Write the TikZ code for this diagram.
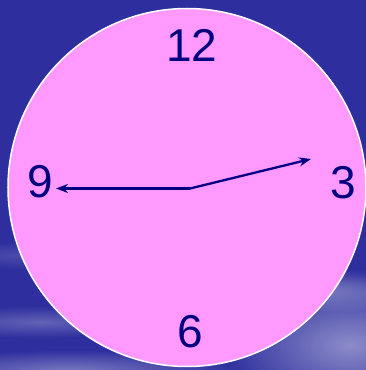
\documentclass[tikz,border=0pt]{standalone}
\usepackage{fontspec}
\setmainfont{Liberation Sans}
\usepackage{xcolor}
\usepackage{tikz}
\usetikzlibrary{arrows.meta, fadings}

\definecolor{skyblue}{RGB}{46,46,158}
\definecolor{facepink}{RGB}{255,153,255}
\definecolor{handblue}{RGB}{0,0,128}

\tikzfading[name=softcloud, inner color=transparent!0, outer color=transparent!100]

\tikzset{
  hour/.style={font=\fontsize{46}{46}\selectfont, text=handblue, inner sep=0pt},
  hand/.style={draw=handblue, line width=2.3pt, -{Stealth[length=12pt, width=9pt]}},
  cloud/.style={fill=white, path fading=softcloud}
}

\begin{document}
\begin{tikzpicture}[x=1pt, y=1pt]
% sky
\fill[skyblue] (0,0) rectangle (366,370);
\useasboundingbox (0,0) rectangle (366,370);
\fill[cloud, opacity=0.45] (350,25) ellipse (130 and 70);
\fill[cloud, opacity=0.3] (320,80) ellipse (110 and 22);
\fill[cloud, opacity=0.25] (40,48) ellipse (120 and 16);
\fill[cloud, opacity=0.35] (70,0) ellipse (170 and 20);
\fill[cloud, opacity=0.15] (20,115) ellipse (70 and 14);

% clock face
\fill[facepink, draw=white, line width=1.5pt] (187,182.5) circle (179);

\node[hour] (n12) at (191.7,325) {12};
\node[hour] (n3)  at (343,187)   {3};
\node[hour] (n6)  at (190.7,38.5) {6};
\node[hour] (n9)  at (40,188)    {9};

\coordinate (hub) at (190,181.5);
\coordinate (tipnine) at (56,181.5);
\coordinate (tipthree) at (311,211);

\draw[hand] (hub) -- (tipnine);
\draw[hand] (hub) -- (tipthree);
\end{tikzpicture}
\end{document}
